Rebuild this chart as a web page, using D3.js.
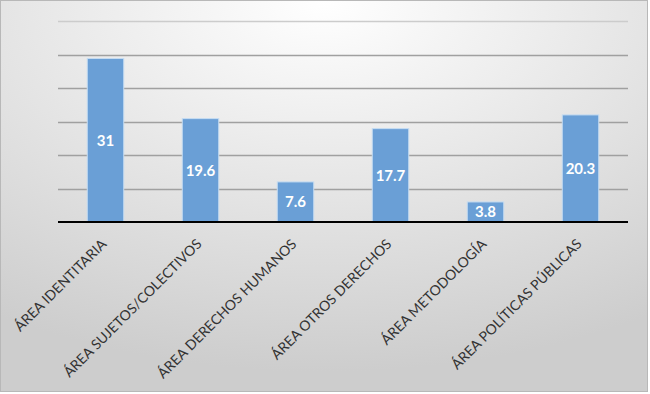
<!DOCTYPE html>
<html>
<head>
<meta charset="utf-8">
<script src="https://cdn.jsdelivr.net/npm/d3@7"></script>
<style>
  body { margin: 0; background: #fff; }
  svg { display: block; }
</style>
</head>
<body>
<svg id="chart" width="650" height="394"></svg>
<script>
// data
var categories = ["ÁREA IDENTITARIA", "ÁREA SUJETOS/COLECTIVOS", "ÁREA DERECHOS HUMANOS",
    "ÁREA OTROS DERECHOS", "ÁREA METODOLOGÍA", "ÁREA POLÍTICAS PÚBLICAS"];
var values = [31, 19.6, 7.6, 17.7, 3.8, 20.3];
var gridValues = [6.35, 12.7, 19.05, 25.4, 31.75, 38.1];

var svg = d3.select("#chart"),
    width = 650,
    height = 394,
    margin = {top: 21, right: 22, bottom: 172, left: 58};

// background gradient
var defs = svg.append("defs");
var grad = defs.append("radialGradient")
    .attr("id", "bg")
    .attr("cx", "50%").attr("cy", "0%")
    .attr("r", "95%");
grad.append("stop").attr("offset", "0%").attr("stop-color", "#ffffff");
grad.append("stop").attr("offset", "100%").attr("stop-color", "#cdcdcd");

svg.append("rect")
    .attr("x", 0.5).attr("y", 0.5)
    .attr("width", width - 3).attr("height", height - 3)
    .attr("fill", "url(#bg)")
    .attr("stroke", "#b8b8b8")
    .attr("stroke-width", 1);

var x = d3.scaleBand()
    .domain(categories)
    .range([margin.left, width - margin.right])
    .paddingInner(0.616)
    .paddingOuter(0.308);

var y = d3.scaleLinear()
    .domain([0, 38.1])
    .range([height - margin.bottom, margin.top]);

// gridlines
svg.append("g")
    .selectAll("line")
    .data(gridValues)
    .join("line")
    .attr("x1", margin.left)
    .attr("x2", width - margin.right)
    .attr("y1", function(d) { return Math.round(y(d)) + 0.5; })
    .attr("y2", function(d) { return Math.round(y(d)) + 0.5; })
    .attr("stroke", function(d, i) { return i == gridValues.length - 1 ? "#cccccc" : "#a0a0a0"; })
    .attr("stroke-width", 1.5);

// bars
svg.append("g")
    .selectAll("rect")
    .data(values)
    .join("rect")
    .attr("x", function(d, i) { return x(categories[i]); })
    .attr("y", function(d) { return y(d); })
    .attr("width", x.bandwidth())
    .attr("height", function(d) { return y(0) - y(d); })
    .attr("fill", "#6a9fd6")
    .attr("stroke", "#c6dcf2")
    .attr("stroke-width", 1);

// axis line
svg.append("line")
    .attr("x1", margin.left)
    .attr("x2", width - margin.right)
    .attr("y1", y(0))
    .attr("y2", y(0))
    .attr("stroke", "#000")
    .attr("stroke-width", 2);

// value labels
svg.append("g")
    .selectAll("text")
    .data(values)
    .join("text")
    .attr("x", function(d, i) { return x(categories[i]) + x.bandwidth() / 2; })
    .attr("y", function(d) { return (y(d) + y(0)) / 2; })
    .attr("dy", "0.36em")
    .attr("text-anchor", "middle")
    .attr("fill", "#fff")
    .attr("font-family", "Lato, 'Open Sans', sans-serif")
    .attr("font-weight", "bold")
    .attr("font-size", 15)
    .text(function(d) { return d; });

// category labels
svg.append("g")
    .selectAll("text")
    .data(categories)
    .join("text")
    .attr("transform", function(d) {
        return "translate(" + (x(d) + x.bandwidth() / 2 + 2) + "," + (y(0) + 23) + ") rotate(-45)";
    })
    .attr("text-anchor", "end")
    .attr("fill", "#333")
    .attr("font-family", "Lato, 'Open Sans', sans-serif")
    .attr("font-size", 14)
    .text(function(d) { return d; });
</script>
</body>
</html>
